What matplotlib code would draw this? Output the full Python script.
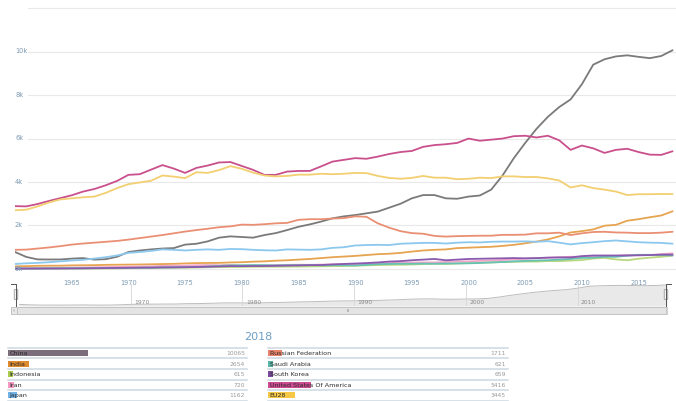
import matplotlib
matplotlib.use("Agg")
import matplotlib.pyplot as plt
from matplotlib.patches import Rectangle, FancyBboxPatch
import numpy as np

years = list(range(1960, 2019))

china = [780, 552, 440, 436, 436, 475, 500, 430, 450, 560,
         780, 850, 900, 940, 960, 1120, 1160, 1270, 1440, 1500,
         1470, 1440, 1560, 1650, 1790, 1940, 2050, 2180, 2330, 2420,
         2480, 2560, 2640, 2820, 3000, 3250, 3400, 3400, 3250, 3230,
         3330, 3380, 3650, 4300, 5100, 5800, 6450, 7000, 7450, 7800,
         8500, 9400, 9650, 9780, 9830, 9760, 9700, 9800, 10065]
india = [120, 130, 145, 150, 150, 165, 170, 175, 190, 195,
         200, 205, 215, 225, 235, 255, 270, 275, 280, 300,
         310, 335, 350, 380, 400, 430, 460, 500, 540, 570,
         600, 640, 680, 700, 740, 800, 850, 880, 900, 960,
         980, 1000, 1020, 1060, 1110, 1180, 1260, 1360, 1500, 1680,
         1740, 1820, 1990, 2030, 2220, 2290, 2380, 2460, 2654]
indonesia = [22, 22, 21, 20, 20, 22, 21, 22, 24, 26,
             35, 38, 45, 52, 57, 60, 66, 78, 86, 90,
             94, 100, 104, 106, 108, 112, 117, 122, 130, 136,
             150, 165, 180, 190, 195, 205, 225, 245, 230, 250,
             270, 290, 300, 320, 330, 340, 340, 365, 360, 385,
             410, 480, 510, 440, 400, 470, 520, 560, 615]
iran = [38, 42, 45, 48, 55, 60, 68, 76, 85, 95,
        100, 110, 120, 140, 150, 155, 170, 180, 170, 185,
        150, 145, 165, 180, 190, 195, 190, 200, 205, 215,
        220, 240, 250, 270, 290, 295, 300, 300, 320, 340,
        350, 370, 390, 410, 440, 470, 500, 520, 540, 560,
        560, 570, 580, 600, 640, 630, 640, 680, 720]
japan = [230, 260, 280, 310, 350, 390, 420, 480, 540, 620,
         740, 780, 830, 900, 880, 850, 880, 900, 880, 920,
         910, 880, 860, 850, 900, 890, 880, 900, 970, 1000,
         1080, 1100, 1110, 1100, 1160, 1180, 1200, 1200, 1170, 1210,
         1230, 1220, 1250, 1260, 1260, 1270, 1250, 1280, 1210, 1130,
         1190, 1230, 1280, 1310, 1270, 1230, 1210, 1200, 1162]
russia = [880, 890, 940, 990, 1050, 1120, 1170, 1210, 1250, 1290,
          1350, 1420, 1490, 1560, 1640, 1720, 1790, 1850, 1920, 1960,
          2040, 2030, 2060, 2100, 2120, 2260, 2290, 2290, 2320, 2340,
          2420, 2400, 2100, 1900, 1740, 1650, 1620, 1520, 1490, 1510,
          1520, 1530, 1530, 1570, 1570, 1580, 1640, 1640, 1670, 1560,
          1640, 1700, 1710, 1680, 1670, 1650, 1650, 1670, 1711]
saudi = [20, 22, 25, 28, 30, 32, 35, 38, 40, 40,
         45, 55, 60, 70, 75, 80, 90, 110, 140, 165,
         170, 180, 175, 165, 175, 170, 180, 165, 175, 170,
         160, 190, 220, 230, 240, 240, 245, 240, 250, 255,
         260, 275, 300, 320, 350, 370, 390, 400, 430, 460,
         510, 520, 560, 560, 610, 650, 650, 640, 621]
south_korea = [13, 14, 17, 20, 21, 24, 28, 35, 40, 46,
               55, 60, 62, 72, 75, 82, 90, 102, 115, 130,
               130, 135, 135, 145, 155, 165, 175, 180, 210, 230,
               250, 270, 300, 340, 360, 400, 430, 460, 400, 430,
               460, 470, 480, 490, 500, 490, 500, 520, 530, 530,
               590, 620, 620, 620, 620, 630, 640, 660, 659]
usa = [2890, 2880, 2990, 3130, 3260, 3390, 3560, 3680, 3850, 4050,
       4330, 4360, 4570, 4780, 4620, 4420, 4650, 4760, 4900, 4920,
       4740, 4560, 4330, 4330, 4480, 4510, 4510, 4720, 4940, 5020,
       5100, 5070, 5170, 5290, 5380, 5430, 5620, 5700, 5740, 5800,
       6000, 5900, 5950, 6000, 6110, 6130, 6050, 6130, 5920, 5480,
       5680, 5550, 5340, 5480, 5530, 5380, 5260, 5250, 5416]
eu28 = [2700, 2730, 2880, 3060, 3200, 3250, 3300, 3330, 3500, 3720,
        3900, 3980, 4060, 4300, 4250, 4180, 4450, 4420, 4550, 4730,
        4610, 4430, 4300, 4260, 4280, 4340, 4340, 4380, 4360, 4380,
        4420, 4410, 4280, 4190, 4150, 4190, 4280, 4200, 4200, 4130,
        4150, 4200, 4180, 4260, 4260, 4230, 4230, 4170, 4070, 3750,
        3850, 3720, 3650, 3560, 3400, 3440, 3440, 3450, 3445]

names = ["China", "India", "Indonesia", "Iran", "Japan",
         "Russian Federation", "Saudi Arabia", "South Korea",
         "United States Of America", "EU28"]
series = [china, india, indonesia, iran, japan,
          russia, saudi, south_korea, usa, eu28]
line_colors = ["#7a7a7a", "#e6a450", "#b9d77f", "#f2a6c9", "#8cc8ee",
               "#ea8f74", "#66c2b2", "#8a5aae", "#c9508c", "#f2cf70"]
bar_colors = ["#7b6d7b", "#de8a2e", "#a9c94f", "#f49ac2", "#72b3e6",
              "#e6826a", "#5bb5a6", "#7a4a9e", "#cc4a90", "#f6c847"]
last_values = [10065, 2654, 615, 720, 1162, 1711, 621, 659, 5416, 3445]

W, H = 676, 402
fig = plt.figure(figsize=(W / 100, H / 100), dpi=100)


def px_axes(x0, y0, x1, y1):
    # pixel box (top-left origin) -> figure axes
    return fig.add_axes([x0 / W, 1 - y1 / H, (x1 - x0) / W, (y1 - y0) / H])


# ---- main chart
ax = px_axes(15, 7, 676, 273)
ax.set_xlim(1960, 2018.3)
ax.set_ylim(-140, 12100)
for s, c in zip(series, line_colors):
    ax.plot(years, s, color=c, lw=1.3, solid_capstyle="round", zorder=3)

gx0 = (28 - 15) / (676 - 15)
for v in range(0, 12001, 2000):
    ax.axhline(v, xmin=gx0, xmax=1, color="#e9e9e9", lw=0.8, zorder=1)
    if v < 12000:
        ax.text(0.0, v + 60, f"{v // 1000}k", transform=ax.get_yaxis_transform(),
                fontsize=4.8, color="#7d9ab2", ha="left", va="center")
for y in range(1965, 2016, 5):
    ax.text(y, -0.025, str(y), transform=ax.get_xaxis_transform(),
            fontsize=4.8, color="#7d9ab2", ha="center", va="top")
ax.axis("off")

# ---- navigator
nav = px_axes(19, 285, 667, 307)
nav.set_xlim(1960, 2018)
nav.set_ylim(0, 10500)
nav.fill_between(years, china, 0, color="#e9e9e9", lw=0)
nav.plot(years, china, color="#bdbdbd", lw=0.7)
for d in range(1970, 2011, 10):
    nav.axvline(d, color="#d6d6d6", lw=0.6)
    nav.text(d + 0.3, 900, str(d), fontsize=4.3, color="#8a8a8a", va="bottom")
nav.axis("off")

# overlay in pixel coordinates for outline, scrollbar and table
ov = fig.add_axes([0, 0, 1, 1])
ov.set_xlim(0, W)
ov.set_ylim(H, 0)
ov.axis("off")
ov.plot([11, 16, 16], [285, 285, 307], color="#555555", lw=0.7)
ov.plot([671, 666, 666], [285, 285, 307], color="#555555", lw=0.7)
for hx in (16, 666):
    ov.add_patch(FancyBboxPatch((hx - 1.5, 291), 3, 9, boxstyle="round,pad=0.3",
                                fc="#f2f2f2", ec="#8a8a8a", lw=0.5))
# scrollbar
ov.add_patch(Rectangle((11, 307.5), 656, 7.5, fc="#f0f0f0", ec="#c8c8c8", lw=0.6))
ov.add_patch(Rectangle((17, 308), 649, 6.5, fc="#e4e4e4", ec="#bcbcbc", lw=0.5))
ov.add_patch(Rectangle((11, 307.5), 6, 7.5, fc="#e8e8e8", ec="#bcbcbc", lw=0.5))
ov.text(14, 311.3, "‹", fontsize=3.5, color="#666666", ha="center", va="center")
ov.text(348, 311.3, "III", fontsize=3, color="#777777", ha="center", va="center")

# ---- table
ov.text(258, 337, "2018", fontsize=8, color="#6d9fc6", ha="center", va="center")
row_y = [354, 364.5, 375, 385.5, 396]
sep_y = [348.5, 359.3, 370, 380.7, 391.2, 401.6]
cols = [(8, 247), (268, 508)]
bar_scale = 80 / max(last_values)
for ci, (x0, x1) in enumerate(cols):
    for yy in sep_y:
        ov.plot([x0, x1], [yy, yy], color="#cdd9e2", lw=1.1)
    idx = range(ci * 5, ci * 5 + 5)
    vals = [last_values[i] for i in idx]
    ov.barh(row_y, [v * bar_scale for v in vals], left=x0, height=6,
            color=[bar_colors[i] for i in idx])
    for i, yy in zip(idx, row_y):
        ov.text(x0 + 1.5, yy, names[i], fontsize=4.6, color="#2b2b2b",
                ha="left", va="center")
        ov.text(x1 - 2, yy, str(last_values[i]), fontsize=4.3, color="#9a9a9a",
                ha="right", va="center")

fig.savefig("out.png", dpi=100)
